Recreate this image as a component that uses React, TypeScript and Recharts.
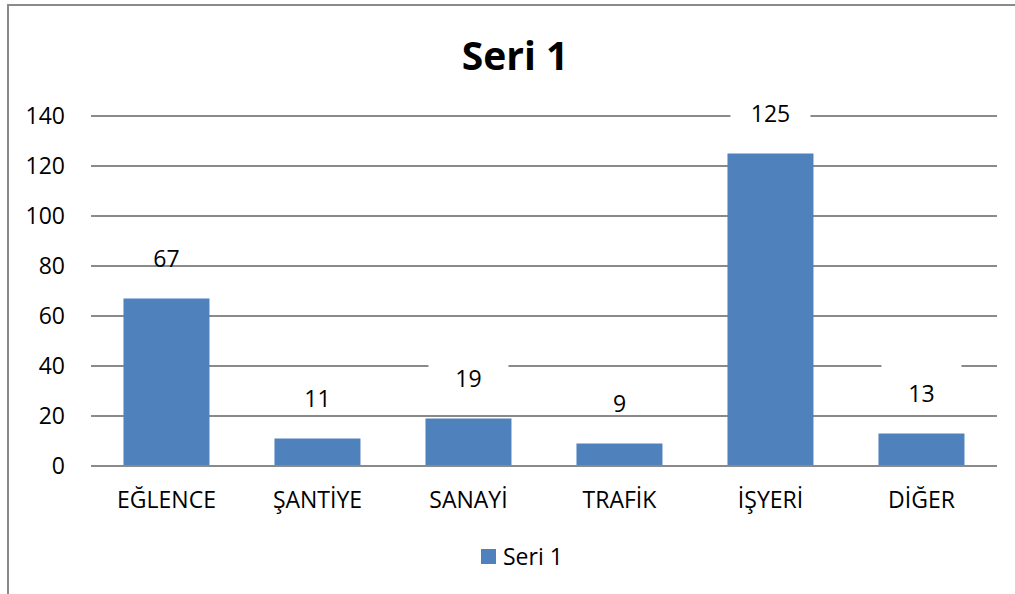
import React from "react";
import { BarChart, Bar, XAxis, YAxis, CartesianGrid, LabelList } from "recharts";

const categories = ["EĞLENCE", "ŞANTİYE", "SANAYİ", "TRAFİK", "İŞYERİ", "DİĞER"];
const seriesName = "Seri 1";
const seriesValues = [67, 11, 19, 9, 125, 13];
const yTicks = [0, 20, 40, 60, 80, 100, 120, 140];

const data = categories.map((c, i) => ({ name: c, value: seriesValues[i] }));

const FONT = "'Open Sans', 'DejaVu Sans', sans-serif";
const BLUE = "#4F81BD";
const GRID = "#8a8a8a";

const ValueLabel = (props: any) => {
  const { x, y, width, value } = props;
  const cx = x + width / 2;
  const ty = y - 40;
  return (
    <g>
      <rect x={cx - 40} y={ty - 30} width={80} height={36} fill="#ffffff" />
      <text x={cx} y={ty} dy="0.355em" textAnchor="middle" fontSize={23} fontFamily={FONT} fill="#000">
        {value}
      </text>
    </g>
  );
};

export default function App() {
  return (
    <div style={{ position: "fixed", left: 0, top: 0, width: 1015, height: 594, overflow: "hidden", background: "#fff" }}>
      <div
        style={{
          position: "absolute",
          left: 7,
          top: 4,
          width: 1100,
          height: 700,
          borderLeft: "2px solid #8a8a8a",
          borderTop: "2px solid #8a8a8a",
          boxSizing: "border-box",
        }}
      />
      <div style={{ position: "absolute", left: 0, top: 0 }}>
        <BarChart
          width={1015}
          height={594}
          data={data}
          margin={{ top: 116, right: 18, left: 0, bottom: 98 }}
          barCategoryGap="21.5%"
        >
          <CartesianGrid horizontal vertical={false} stroke={GRID} strokeWidth={2} />
          <XAxis
            dataKey="name"
            axisLine={{ stroke: GRID, strokeWidth: 2 }}
            tickLine={false}
            tickSize={0}
            tickMargin={26}
            height={30}
            interval={0}
            tick={{ fontSize: 23, fontFamily: FONT, fill: "#000" }}
          />
          <YAxis
            domain={[0, 140]}
            ticks={yTicks}
            width={91}
            axisLine={false}
            tickLine={false}
            tickSize={0}
            tickMargin={26}
            tick={{ fontSize: 23, fontFamily: FONT, fill: "#000" }}
          />
          <Bar dataKey="value" name={seriesName} fill={BLUE} isAnimationActive={false}>
            <LabelList dataKey="value" content={ValueLabel} />
          </Bar>
        </BarChart>
      </div>
      <svg style={{ position: "absolute", left: 0, top: 0 }} width={1015} height={594}>
        <text x={515} y={70} textAnchor="middle" fontSize={39} fontWeight="bold" fontFamily={FONT} fill="#000">
          {seriesName}
        </text>
        <rect x={481} y={549} width={15} height={15} fill={BLUE} />
        <text x={503} y={565} fontSize={23} fontFamily={FONT} fill="#000">
          {seriesName}
        </text>
      </svg>
    </div>
  );
}
